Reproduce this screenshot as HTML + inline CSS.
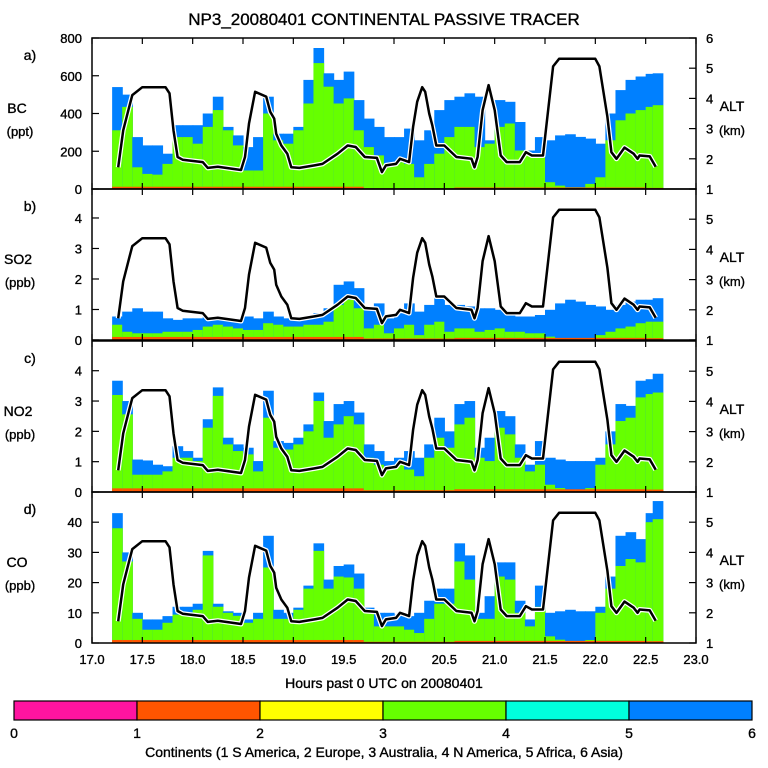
<!DOCTYPE html>
<html><head><meta charset="utf-8"><style>
body{margin:0;background:#fff;width:768px;height:768px;overflow:hidden}
svg{display:block;font-family:"Liberation Sans",sans-serif}
svg text{stroke:#000;stroke-width:0.35px}
</style></head><body>
<svg id="c" width="768" height="768" viewBox="0 0 768 768"></svg>
<script>
const times=[17.25,17.35,17.45,17.55,17.65,17.75,17.85,17.95,18.05,18.15,18.25,18.35,18.45,18.55,18.65,18.75,18.85,18.95,19.05,19.15,19.25,19.35,19.45,19.55,19.65,19.75,19.85,19.95,20.05,20.15,20.25,20.35,20.45,20.55,20.65,20.75,20.85,20.95,21.05,21.15,21.25,21.35,21.45,21.55,21.65,21.75,21.85,21.95,22.05,22.15,22.25,22.35,22.45,22.55,22.62];
const bcGreen=[311,435,115,80,76,133,275,275,240,329,418,311,231,98,98,400,258,240,311,453,667,542,453,480,311,222,178,133,142,133,62,133,187,275,329,329,222,240,329,347,204,187,169,36,18,9,9,27,62,258,364,400,418,435,444];
const bcTotal=[540,500,275,231,231,187,338,338,338,400,489,329,284,222,275,489,293,293,329,578,747,613,578,622,471,373,329,275,275,320,258,311,418,471,489,507,489,258,471,462,355,204,275,258,284,290,276,267,240,400,524,578,596,610,613];
const bcRed=[12,12,12,12,12,12,12,12,12,12,12,12,12,12,12,12,12,12,12,12,12,12,12,12,12,4,4,4,4,4,4,4,4,4,8,8,8,8,8,8,8,8,8,8,8,8,8,8,8,8,8,8,8,6,6];
const so2Green=[.5,.27,.22,.22,.22,.27,.27,.27,.33,.44,.5,.44,.38,.33,.33,.55,.5,.44,.44,.5,.5,.6,1.15,1.32,1.04,.38,.5,.22,.38,.5,.16,.5,.6,.27,.38,.38,.27,.33,.38,.27,.27,.22,.22,.11,.05,.03,.03,.05,.16,.27,.38,.44,.55,.6,.6];
const so2Total=[.77,.93,1.04,.93,.93,.71,.66,.71,.71,.77,.77,.71,.71,.77,.71,.93,.77,.71,.71,.77,.88,1.04,1.81,1.92,1.7,1.04,1.2,.71,.88,1.2,.93,1.15,1.48,1.15,1.15,1.1,1.04,1.04,.99,.82,.77,.77,.82,.99,1.2,1.32,1.26,1.15,1.1,.99,1.15,1.26,1.32,1.32,1.37];
const so2Red=[.1,.1,.1,.1,.1,.1,.1,.1,.1,.1,.1,.1,.1,.1,.1,.1,.1,.1,.1,.1,.1,.1,.1,.1,.1,.05,.05,.05,.05,.05,.05,.05,.05,.05,.07,.07,.07,.07,.07,.07,.07,.07,.07,.07,.07,.07,.07,.07,.07,.07,.07,.07,.07,.06,.06];
const no2Green=[3.2,2.56,.57,.57,.57,.68,1.13,1.13,1.02,2.12,3.17,1.57,1.35,1.24,.68,2.45,1.46,1.4,1.57,2.0,3.0,1.79,2.23,2.5,2.23,1.13,.9,.8,.9,.74,.52,1.13,1.79,1.46,2.23,2.45,1.13,1.02,2.12,1.9,1.13,.68,.9,.24,.13,.08,.08,.13,.9,1.57,2.34,2.45,3.12,3.23,3.28];
const no2Total=[3.67,3.0,1.07,1.04,.9,.85,1.51,1.35,1.13,2.4,3.45,1.79,1.57,1.46,1.02,3.34,1.68,1.62,1.79,2.23,3.28,2.34,2.9,3.0,2.62,1.57,1.35,1.02,1.13,1.35,1.13,1.57,2.45,2.0,2.9,3.0,1.46,1.79,2.67,2.5,1.57,.9,1.68,1.13,1.07,1.02,1.02,1.02,1.13,2.0,2.9,2.84,3.67,3.72,3.9];
const no2Red=[.12,.12,.12,.12,.12,.12,.12,.12,.12,.12,.12,.12,.12,.12,.12,.12,.12,.12,.12,.12,.12,.12,.12,.12,.12,.06,.06,.06,.06,.06,.06,.06,.06,.06,.09,.09,.09,.09,.09,.09,.09,.09,.09,.09,.09,.09,.09,.09,.09,.09,.09,.09,.09,.08,.08];
const coGreen=[38,27,8,4.4,4.4,6.7,9.4,9.4,11,29,12,10,9,6.7,8,25,8,8,11,18,30.5,18,22,21.7,18,10,5.5,5.5,5.5,4.4,3.3,8,13,13,27,21,8,8,22,21,10,5.5,12,2.2,1.1,.5,.5,1,10,18,25.5,27.8,26.7,40,41];
const coTotal=[43,30,10,7.8,7.8,8.9,12,12,13,30.5,13,10.5,10,7.8,10,35.5,11,10,11.7,19,33,21,25.5,26,23,11.7,10,10,9.4,8.9,10,14,18,18,33,29,10,15.5,26.7,26.7,14,7.8,19,10,10.5,11,10.5,10.5,12,22,35.5,36.7,34.4,43,47];
const coRed=[1,1,1,1,1,1,1,1,1,1,1,1,1,1,1,1,1,1,1,1,1,1,1,1,1,.4,.4,.4,.4,.4,.4,.4,.4,.4,.7,.7,.7,.7,.7,.7,.7,.7,.7,.7,.7,.7,.7,.7,.7,.7,.7,.7,.7,.6,.6];
const altT=[17.26,17.31,17.37,17.40,17.5,17.73,17.77,17.81,17.85,17.90,18.10,18.15,18.25,18.48,18.52,18.56,18.62,18.73,18.77,18.81,18.83,18.88,18.94,18.98,19.06,19.21,19.29,19.44,19.54,19.62,19.71,19.83,19.88,19.92,20.02,20.06,20.11,20.15,20.19,20.23,20.28,20.31,20.35,20.38,20.42,20.50,20.62,20.77,20.80,20.83,20.88,20.94,21.0,21.06,21.12,21.25,21.31,21.37,21.48,21.58,21.64,22.0,22.04,22.12,22.16,22.21,22.29,22.38,22.42,22.44,22.54,22.60];
const altV=[1.72,2.94,3.72,4.11,4.37,4.37,4.17,2.94,2.06,1.97,1.89,1.70,1.74,1.63,2.06,3.17,4.22,4.06,3.56,3.33,2.83,2.44,2.17,1.72,1.70,1.78,1.83,2.17,2.44,2.39,2.06,2.03,1.56,1.78,1.83,2.0,1.94,1.89,3.06,3.89,4.37,4.22,3.5,3.11,2.44,2.44,2.06,2.0,1.72,2.06,3.61,4.44,3.61,2.11,1.89,1.89,2.22,2.11,2.11,5.06,5.31,5.31,5.06,3.39,2.22,2.0,2.37,2.17,2.0,2.11,2.08,1.74];
const xTicks=["17.0","17.5","18.0","18.5","19.0","19.5","20.0","20.5","21.0","21.5","22.0","22.5","23.0"];
const panels=[
 {key:"bc",lab:"a)",n1:"BC",n2:"(ppt)",top:38,max:800,ticks:[0,200,400,600,800],g:bcGreen,t:bcTotal,r:bcRed,alt:[1,2,3,4,5,6]},
 {key:"so2",lab:"b)",n1:"SO2",n2:"(ppb)",top:189,max:4.95,ticks:[0,1,2,3,4],g:so2Green,t:so2Total,r:so2Red,alt:[1,2,3,4,5]},
 {key:"no2",lab:"c)",n1:"NO2",n2:"(ppb)",top:341,max:4.98,ticks:[0,1,2,3,4],g:no2Green,t:no2Total,r:no2Red,alt:[1,2,3,4,5]},
 {key:"co",lab:"d)",n1:"CO",n2:"(ppb)",top:492,max:50,ticks:[0,10,20,30,40],g:coGreen,t:coTotal,r:coRed,alt:[1,2,3,4,5]}];
const X0=92,X1=696,H=151;
const xs=t=>X0+(t-17)/6*(X1-X0);
const NS="http://www.w3.org/2000/svg";
const svg=document.getElementById('c');
function mk(tag,at,parent){const e=document.createElementNS(NS,tag);for(const k in at)e.setAttribute(k,at[k]);(parent||svg).appendChild(e);return e;}
function txt(s,x,y,size,anchor,parent){const e=mk('text',{x:x,y:y,'font-size':size,'text-anchor':anchor||'middle',fill:'#000'},parent);e.textContent=s;return e;}
let t0=txt("NP3_20080401 CONTINENTAL PASSIVE TRACER",384,25,17);


panels.forEach((p,pi)=>{
 const g=mk('g',{});
 
 
 const bot=p.top+H;
 const ys=v=>bot-Math.min(v,p.max)/p.max*H;
 const ya=a=>bot-(a-1)/5*H;
 const bw=(X1-X0)/60;
 times.forEach((t,i)=>{
  const xl=xs(t)-bw/2;
  const b=mk('rect',{x:xl,y:ys(p.t[i]),width:bw+0.6,height:bot-ys(p.t[i]),fill:'#0080ff'},g);
  
  
  const gr=mk('rect',{x:xl,y:ys(p.g[i]),width:bw+0.6,height:bot-ys(p.g[i]),fill:'#66ff00'},g);
  
  
  const rd=mk('rect',{x:xl,y:ys(p.r[i]),width:bw+0.6,height:bot-ys(p.r[i]),fill:'#ff5500'},g);
  
  
 });
 const pts=altT.map((t,i)=>xs(t).toFixed(1)+','+ya(altV[i]).toFixed(1)).join(' ');
 mk('polyline',{points:pts,fill:'none',stroke:'#fff','stroke-width':5,'stroke-linejoin':'round'},g);
 const al=mk('polyline',{points:pts,fill:'none',stroke:'#000','stroke-width':2.5,'stroke-linejoin':'round'},g);
 
 
 mk('rect',{x:X0,y:p.top,width:X1-X0,height:H,fill:'none',stroke:'#000','stroke-width':1.5},g);
 xTicks.forEach((s,i)=>{const x=xs(17+i*0.5);mk('line',{x1:x,x2:x,y1:p.top,y2:p.top+6,stroke:'#000','stroke-width':1.2},g);mk('line',{x1:x,x2:x,y1:bot,y2:bot-6,stroke:'#000','stroke-width':1.2},g);});
 p.ticks.forEach(v=>{const y=ys(v);mk('line',{x1:X0,x2:X0+7,y1:y,y2:y,stroke:'#000','stroke-width':1.2},g);
  const tl=txt(String(v),82,y+5,13,'end',g);
  
  });
 p.alt.forEach(a=>{const y=ya(a);mk('line',{x1:X1,x2:X1-7,y1:y,y2:y,stroke:'#000','stroke-width':1.2},g);
  const tl=txt(String(a),706,y+5,13,'start',g);
  
  });
 const l1=txt(p.lab,30,p.top+22,14,'middle',g);
 
 
 const l2=txt(p.n1,p.n1.length>2?18:17,p.top+75,14,'middle',g);
 
 
 txt(p.n2,20,p.top+98,13,'middle',g);
 const r1=txt("ALT",732,p.top+73,14,'middle',g);
 
 
 txt("(km)",732,p.top+97,13,'middle',g);
});
xTicks.forEach((s,i)=>{const tl=txt(s,xs(17+i*0.5),664,13);
 
 });
const xt=txt("Hours past 0 UTC on 20080401",384,688,14);


const cbColors=["#ff14a0","#ff5500","#ffff00","#66ff00","#00ffdd","#0080ff"];
const CB0=14,CB1=752;
cbColors.forEach((c,i)=>{const w=(CB1-CB0)/6;const r=mk('rect',{x:CB0+i*w,y:701,width:w,height:19,fill:c,stroke:'#000','stroke-width':1.2});
 
 });
for(let i=0;i<=6;i++){const tl=txt(String(i),CB0+i*(CB1-CB0)/6,738,14);
 
 }
const cc=txt("Continents (1 S America, 2 Europe, 3 Australia, 4 N America, 5 Africa, 6 Asia)",384,757,14);


</script>
</body></html>
